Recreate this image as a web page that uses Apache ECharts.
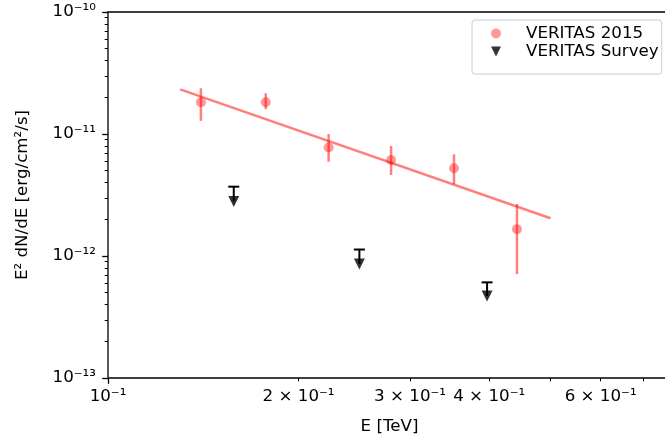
<!DOCTYPE html>
<html>
<head>
<meta charset="utf-8">
<script src="https://cdn.jsdelivr.net/npm/echarts@6/dist/echarts.min.js"></script>
<style>
  html, body { margin: 0; padding: 0; background: #fff; }
  #chart-dom { width: 665px; height: 444px; }
</style>
</head>
<body>
<div id="chart-dom"></div>
<script>
// VERITAS 2015 points (E in TeV, E^2 dN/dE in erg/cm2/s)
const energy2015 = [0.1402, 0.1775, 0.2231, 0.280, 0.352, 0.4426];
const flux2015 = [1.82e-11, 1.82e-11, 7.75e-12, 6.12e-12, 5.24e-12, 1.66e-12];
const fluxLow2015 = [1.28e-11, 1.60e-11, 5.93e-12, 4.61e-12, 3.87e-12, 7.1e-13];
const fluxHigh2015 = [2.37e-11, 2.16e-11, 1.0e-11, 7.98e-12, 6.82e-12, 2.67e-12];

// power-law fit
const fitEnergy = [0.13, 0.5];
const fitFlux = [2.32e-11, 2.04e-12];

// VERITAS survey upper limits
const energySurvey = [0.158, 0.2495, 0.397];
const fluxSurvey = [2.80e-12, 8.6e-13, 4.70e-13];
const capSurvey = [3.70e-12, 1.13e-12, 6.08e-13];

// ticks
const xLabelValues = [0.1, 0.2, 0.3, 0.4, 0.6];
const xLabelTexts = ['10⁻¹', '2 × 10⁻¹', '3 × 10⁻¹', '4 × 10⁻¹', '6 × 10⁻¹'];
const xMajorValues = [0.1];
const xMinorValues = [0.2, 0.3, 0.4, 0.5, 0.6, 0.7];
const yLabelValues = [1e-13, 1e-12, 1e-11, 1e-10];
const yLabelTexts = ['10⁻¹³', '10⁻¹²', '10⁻¹¹', '10⁻¹⁰'];
const yMinorSteps = [2, 3, 4, 5, 6, 7, 8, 9];

const xMin = 0.1, xMax = 0.775;
const yMin = 1e-13, yMax = 1e-10;

const FONT = 'DejaVu Sans';
const FS = 16.7;
const RED = 'rgba(255, 0, 0, 0.5)';
const DOWN_TRI = 'path://M0,0L10,0L5,10Z';

const lg = v => Math.log10(v);
const yMinorValues = [];
[-13, -12, -11].forEach(d => yMinorSteps.forEach(k => yMinorValues.push(lg(k) + d)));

function pickText(values, texts) {
  return function (v) {
    for (let i = 0; i < values.length; i++) {
      if (Math.abs(lg(values[i]) - v) < 1e-6) return texts[i];
    }
    return '';
  };
}

const myChart = echarts.init(document.getElementById('chart-dom'));

const tickAxis = {
  type: 'value',
  splitLine: { show: false },
  axisLine: { show: false },
  axisTick: { lineStyle: { color: '#000', width: 1.3 } },
  axisLabel: { show: false }
};

const option = {
  animation: false,
  textStyle: { fontFamily: FONT },
  grid: {
    left: 108, top: 12, right: -6, bottom: 66,
    show: true, borderColor: '#000', borderWidth: 1.3,
    containLabel: false, outerBoundsMode: 'none'
  },
  legend: {
    data: [
      { name: 'VERITAS 2015', icon: 'circle' },
      { name: 'VERITAS Survey', icon: DOWN_TRI }
    ],
    orient: 'vertical',
    left: 472, top: 20,
    padding: [5, 3, 14, 19],
    itemWidth: 10, itemHeight: 10, itemGap: 1,
    symbolKeepAspect: true,
    borderColor: '#cccccc', borderWidth: 1, borderRadius: 3,
    backgroundColor: 'rgba(255,255,255,0.8)',
    textStyle: { fontFamily: FONT, fontSize: FS, color: '#000', lineHeight: 17, padding: [0, 0, 0, 20] }
  },
  xAxis: [
    { type: 'log', logBase: 10, min: xMin, max: xMax, show: false },
    Object.assign({}, tickAxis, {
      min: lg(xMin), max: lg(xMax), position: 'bottom',
      name: 'E [TeV]', nameLocation: 'middle', nameGap: 40,
      nameTextStyle: { fontFamily: FONT, fontSize: FS, color: '#000' },
      axisTick: { length: 5.8, customValues: xMajorValues.map(lg), lineStyle: { color: '#000', width: 1.3 } },
      axisLabel: {
        show: true, margin: 10, fontFamily: FONT, fontSize: FS, color: '#000',
        customValues: xLabelValues.map(lg), formatter: pickText(xLabelValues, xLabelTexts)
      }
    }),
    Object.assign({}, tickAxis, {
      min: lg(xMin), max: lg(xMax), position: 'bottom',
      axisTick: { length: 3.3, customValues: xMinorValues.map(lg), lineStyle: { color: '#000', width: 1 } }
    })
  ],
  yAxis: [
    { type: 'log', logBase: 10, min: yMin, max: yMax, show: false },
    Object.assign({}, tickAxis, {
      min: lg(yMin), max: lg(yMax), position: 'left',
      name: 'E² dN/dE [erg/cm²/s]', nameLocation: 'middle', nameGap: 77, nameRotate: 90,
      nameTextStyle: { fontFamily: FONT, fontSize: FS, color: '#000' },
      axisTick: { length: 5.8, customValues: yLabelValues.map(lg), lineStyle: { color: '#000', width: 1.3 } },
      axisLabel: {
        show: true, margin: 12, fontFamily: FONT, fontSize: FS, color: '#000',
        customValues: yLabelValues.map(lg), formatter: pickText(yLabelValues, yLabelTexts)
      }
    }),
    Object.assign({}, tickAxis, {
      min: lg(yMin), max: lg(yMax), position: 'left',
      axisTick: { length: 3.3, customValues: yMinorValues, lineStyle: { color: '#000', width: 1 } }
    })
  ],
  series: [
    {
      name: 'fit',
      type: 'line',
      xAxisIndex: 0, yAxisIndex: 0,
      data: fitEnergy.map((e, i) => [e, fitFlux[i]]),
      symbol: 'none',
      lineStyle: { color: RED, width: 2.5 },
      z: 2
    },
    {
      name: 'err2015',
      type: 'custom',
      xAxisIndex: 0, yAxisIndex: 0,
      data: energy2015.map((e, i) => [e, fluxLow2015[i], fluxHigh2015[i]]),
      renderItem: function (params, api) {
        const lo = api.coord([api.value(0), api.value(1)]);
        const hi = api.coord([api.value(0), api.value(2)]);
        return {
          type: 'line',
          shape: { x1: lo[0], y1: lo[1], x2: hi[0], y2: hi[1] },
          style: { stroke: RED, lineWidth: 2.5 }
        };
      },
      z: 3
    },
    {
      name: 'VERITAS 2015',
      type: 'scatter',
      xAxisIndex: 0, yAxisIndex: 0,
      data: energy2015.map((e, i) => [e, flux2015[i]]),
      symbol: 'circle',
      symbolSize: 10,
      itemStyle: { color: RED },
      z: 4
    },
    {
      name: 'limits',
      type: 'custom',
      xAxisIndex: 0, yAxisIndex: 0,
      data: energySurvey.map((e, i) => [e, fluxSurvey[i], capSurvey[i]]),
      renderItem: function (params, api) {
        const p = api.coord([api.value(0), api.value(1)]);
        const c = api.coord([api.value(0), api.value(2)]);
        return {
          type: 'group',
          children: [
            { type: 'line', shape: { x1: p[0], y1: p[1], x2: c[0], y2: c[1] }, style: { stroke: '#000', lineWidth: 2 } },
            { type: 'line', shape: { x1: c[0] - 5.5, y1: c[1], x2: c[0] + 5.5, y2: c[1] }, style: { stroke: '#000', lineWidth: 2 } }
          ]
        };
      },
      z: 5
    },
    {
      name: 'VERITAS Survey',
      type: 'scatter',
      xAxisIndex: 0, yAxisIndex: 0,
      data: energySurvey.map((e, i) => [e, fluxSurvey[i]]),
      symbol: DOWN_TRI,
      symbolSize: 11,
      symbolKeepAspect: true,
      itemStyle: { color: '#000' },
      z: 6
    }
  ]
};
myChart.setOption(option, true);
</script>
</body>
</html>
